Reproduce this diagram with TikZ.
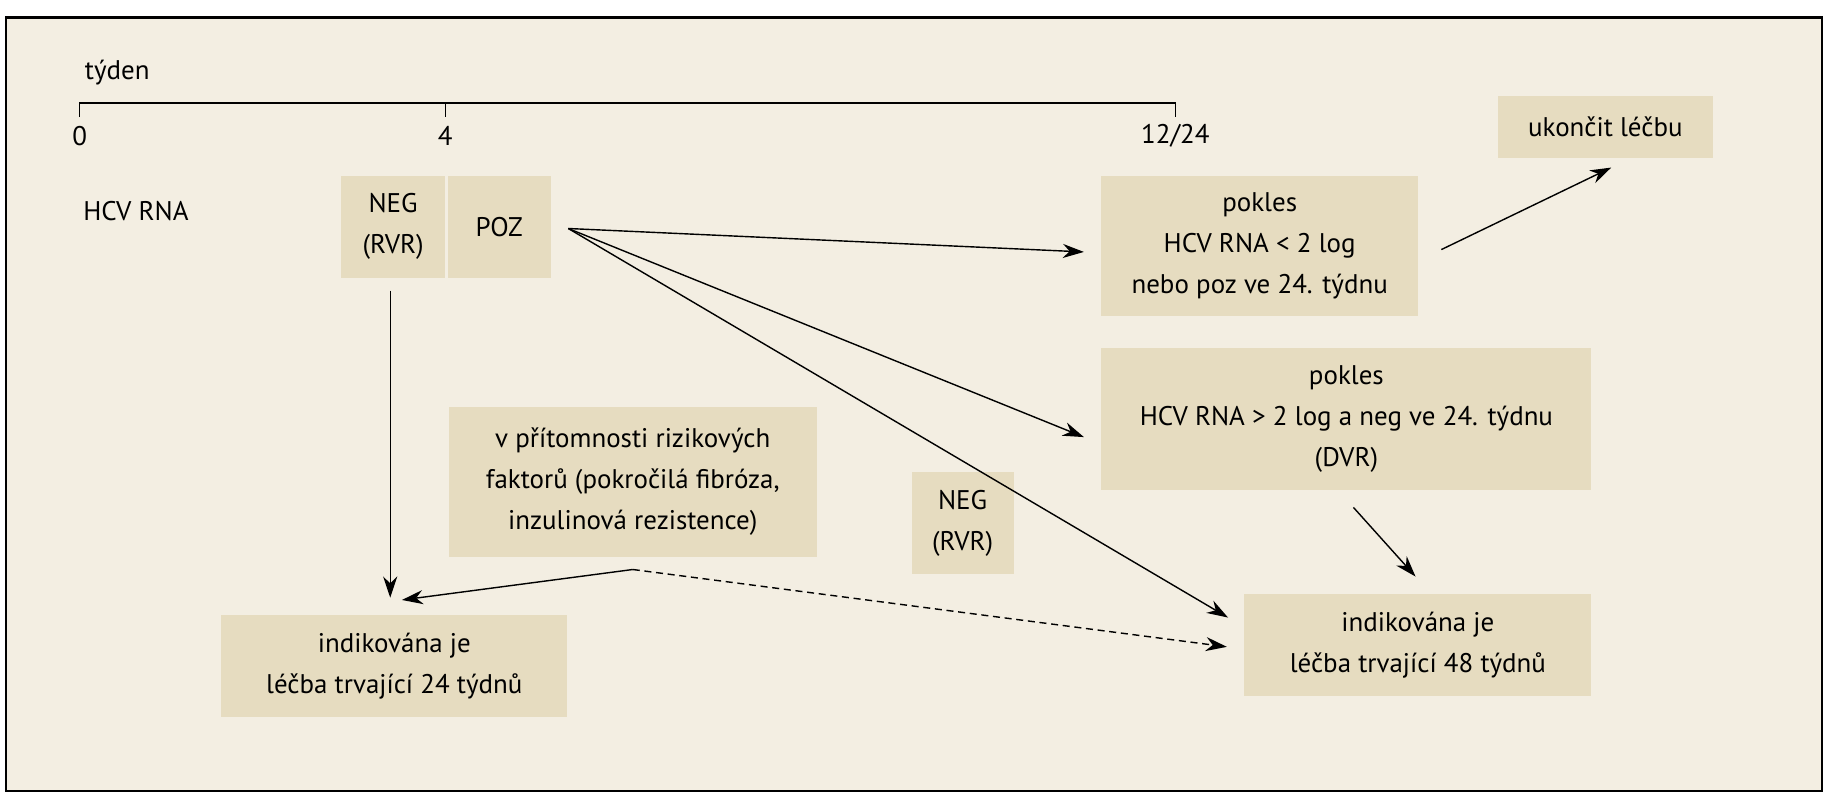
\documentclass[tikz,border=0pt]{standalone}
\usepackage{fontspec}
\setmainfont{PT Sans}
\usetikzlibrary{arrows.meta}
\definecolor{bg}{HTML}{F3EEE2}
\definecolor{bx}{HTML}{E6DCC0}
\begin{document}
\begin{tikzpicture}[x=0.5pt,y=-0.5pt,
  box/.style={fill=bx,draw=none,inner sep=0pt,align=center,font=\fontsize{11.5}{17.5}\selectfont},
  txt/.style={inner sep=0pt,font=\fontsize{11.5}{17.5}\selectfont},
  arr/.style={-{Stealth[length=9pt,width=6pt]},line width=0.6pt}]
\useasboundingbox (0,0) rectangle (1560,682);
\draw[fill=bg,line width=1pt] (5,15) rectangle (1555,675);
\node[txt] (tyden) at (100,62) {týden};
\draw[line width=0.6pt] (68,100) -- (68,88) -- (1003,88) -- (1003,100);
\draw[line width=0.6pt] (380,88) -- (380,100);
\node[txt] (t0) at (68,116) {0};
\node[txt] (t4) at (380,116) {4};
\node[txt] (t12) at (1003,116) {12/24};
\node[txt] (hcv) at (116,180) {HCV RNA};
\node[box,minimum width=44.5pt,minimum height=43.5pt] (neg) at (335.5,193.5) {NEG\\(RVR)};
\node[box,minimum width=44pt,minimum height=43.5pt] (poz) at (426,193.5) {POZ};
\node[box,minimum width=135pt,minimum height=60pt] (p1) at (1075,210) {pokles\\HCV RNA < 2 log\\nebo poz ve 24. týdnu};
\node[box,minimum width=92pt,minimum height=26.5pt] (uk) at (1370,108.5) {ukončit léčbu};
\node[box,minimum width=209pt,minimum height=60.5pt] (p2) at (1149,357.5) {pokles\\HCV RNA > 2 log a neg ve 24. týdnu\\(DVR)};
\node[box,minimum width=157pt,minimum height=64pt] (risk) at (540,411) {v přítomnosti rizikových\\faktorů (pokročilá fibróza,\\inzulinová rezistence)};
\node[box,minimum width=43.5pt,minimum height=43.5pt] (neg2) at (821.5,446.5) {NEG\\(RVR)};
\node[box,minimum width=147.5pt,minimum height=43.5pt] (w24) at (336.5,568.5) {indikována je\\léčba trvající 24 týdnů};
\node[box,minimum width=148pt,minimum height=43.5pt] (w48) at (1210,550.5) {indikována je\\léčba trvající 48 týdnů};
\coordinate (pozR) at (485,195);
\coordinate (riskB) at (540,486);
\draw[arr] (pozR) -- (925,215);
\draw[arr] (pozR) -- (925,373);
\draw[arr] (pozR) -- (1048,527);
\draw[arr] (1230,213) -- (1375,143);
\draw[arr] (333,248) -- (333,510);
\draw[arr] (riskB) -- (343,512);
\draw[arr,dashed,dash pattern=on 3pt off 2pt] (riskB) -- (1047,552);
\draw[arr] (1155,433) -- (1208,492);
\end{tikzpicture}
\end{document}
